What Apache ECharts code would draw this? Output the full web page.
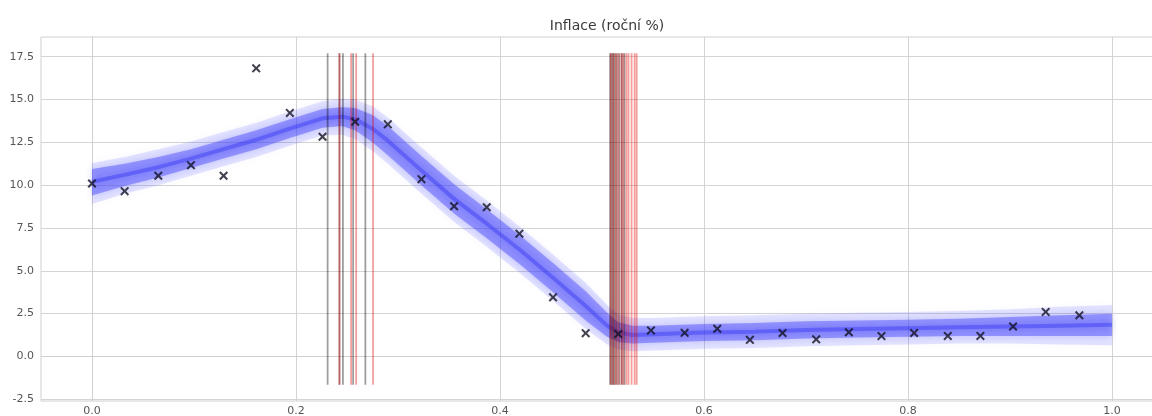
<!DOCTYPE html>
<html>
<head>
<meta charset="utf-8">
<script src="https://cdn.jsdelivr.net/npm/echarts@6/dist/echarts.min.js"></script>
<style>html,body{margin:0;padding:0;background:#fff}#c{width:1152px;height:416px}</style>
</head>
<body>
<div id="c"></div>
<script>
// observed data (crosses)
const obsX = [0, 0.032, 0.065, 0.097, 0.129, 0.161, 0.194, 0.226, 0.258, 0.290, 0.323, 0.355, 0.387, 0.419, 0.452, 0.484, 0.516, 0.548, 0.581, 0.613, 0.645, 0.677, 0.710, 0.742, 0.774, 0.806, 0.839, 0.871, 0.903, 0.935, 0.968];
const obsY = [10.1, 9.65, 10.55, 11.17, 10.55, 16.82, 14.22, 12.83, 13.7, 13.55, 10.35, 8.77, 8.71, 7.17, 3.45, 1.36, 1.31, 1.52, 1.38, 1.62, 0.97, 1.37, 1.0, 1.41, 1.19, 1.37, 1.2, 1.2, 1.75, 2.6, 2.4];

// posterior band
const bandX   = [0, 0.032, 0.065, 0.097, 0.129, 0.161, 0.194, 0.226, 0.245, 0.258, 0.275, 0.29, 0.323, 0.355, 0.387, 0.42, 0.452, 0.484, 0.505, 0.516, 0.53, 0.55, 0.6, 0.65, 0.7, 0.75, 0.8, 0.85, 0.9, 0.95, 1.0];
const bandMid = [10.2, 10.6, 11.05, 11.55, 12.1, 12.65, 13.3, 13.9, 14.0, 13.85, 13.3, 12.6, 10.85, 9.2, 7.75, 6.2, 4.6, 2.95, 1.8, 1.4, 1.25, 1.3, 1.4, 1.45, 1.55, 1.6, 1.65, 1.7, 1.75, 1.8, 1.85];
const innerHi = [10.95, 11.25, 11.65, 12.1, 12.65, 13.2, 13.85, 14.45, 14.55, 14.5, 14.1, 13.45, 11.7, 10.05, 8.6, 7.05, 5.45, 3.8, 2.55, 2.0, 1.8, 1.8, 1.9, 1.95, 2.05, 2.1, 2.15, 2.2, 2.3, 2.4, 2.5];
const innerLo = [9.4, 9.95, 10.45, 11.0, 11.55, 12.1, 12.75, 13.35, 13.45, 13.2, 12.5, 11.75, 10.0, 8.35, 6.9, 5.35, 3.75, 2.1, 1.15, 0.85, 0.75, 0.8, 0.9, 0.95, 1.05, 1.1, 1.15, 1.2, 1.2, 1.2, 1.2];
const outerHi = [11.3, 11.65, 12.1, 12.55, 13.1, 13.65, 14.3, 14.9, 15.05, 15.0, 14.6, 13.95, 12.2, 10.55, 9.1, 7.55, 5.95, 4.3, 3.0, 2.45, 2.25, 2.25, 2.35, 2.4, 2.5, 2.55, 2.6, 2.65, 2.75, 2.9, 3.0];
const outerLo = [8.9, 9.5, 10.0, 10.55, 11.1, 11.65, 12.3, 12.9, 12.95, 12.7, 12.0, 11.25, 9.5, 7.85, 6.4, 4.85, 3.25, 1.6, 0.7, 0.4, 0.3, 0.35, 0.45, 0.5, 0.6, 0.65, 0.7, 0.75, 0.75, 0.7, 0.65];

// change-point lines
const blackLines = [0.231, 0.2426, 0.246, 0.256, 0.268, 0.508, 0.5095, 0.511, 0.5125, 0.5145, 0.517, 0.5195, 0.522];
const redLines = [0.2426, 0.254, 0.259, 0.2755, 0.5085, 0.511, 0.5135, 0.516, 0.519, 0.521, 0.524, 0.526, 0.529, 0.532, 0.534];
const vlineLow = -1.65, vlineHigh = 17.7;

// ticks
const xTicks = [0, 0.2, 0.4, 0.6, 0.8, 1.0];
const yTicks = [-2.5, 0, 2.5, 5, 7.5, 10, 12.5, 15, 17.5];
const titleText = 'Inflace (roční %)';

const chart = echarts.init(document.getElementById('c'));
const FONT = 'DejaVu Sans';

function bandSeries(hi, lo, fill, blur) {
  return {
    type: 'custom', coordinateSystem: 'cartesian2d', silent: true, clip: true,
    data: [0], z: 1,
    renderItem: function (params, api) {
      const pts = [];
      for (let i = 0; i < bandX.length; i++) pts.push(api.coord([bandX[i], hi[i]]));
      for (let i = bandX.length - 1; i >= 0; i--) pts.push(api.coord([bandX[i], lo[i]]));
      return { type: 'polygon', shape: { points: pts }, style: { fill: fill, shadowBlur: blur, shadowColor: fill } };
    }
  };
}
function vlineSeries(xs, color) {
  return {
    type: 'custom', coordinateSystem: 'cartesian2d', silent: true, z: 3,
    data: xs.map(v => [v]),
    encode: { x: 0 },
    renderItem: function (params, api) {
      const x = api.value(0);
      const p1 = api.coord([x, vlineLow]);
      const p2 = api.coord([x, vlineHigh]);
      return { type: 'line', shape: { x1: p1[0], y1: p1[1], x2: p2[0], y2: p2[1] }, style: { stroke: color, lineWidth: 1.8 } };
    }
  };
}

const xPath = 'path://M0,1.6 L1.6,0 L5,3.4 L8.4,0 L10,1.6 L6.6,5 L10,8.4 L8.4,10 L5,6.6 L1.6,10 L0,8.4 L3.4,5 Z';

chart.setOption({
  animation: false,
  backgroundColor: '#fff',
  title: { text: titleText, left: 602, textAlign: 'center', top: 14, textStyle: { fontFamily: FONT, fontSize: 14, fontWeight: 'normal', color: '#3a3a3a' } },
  grid: { left: 41, top: 37, width: 1122, height: 364, outerBoundsMode: 'none', containLabel: false, show: true, borderColor: '#d0d0d0', borderWidth: 1, backgroundColor: 'transparent' },
  xAxis: {
    type: 'value', min: -0.05, max: 1.05,
    axisLine: { show: true, lineStyle: { color: '#d0d0d0' } },
    axisTick: { show: false, customValues: xTicks },
    axisLabel: { customValues: xTicks, formatter: v => v.toFixed(1), color: '#555', fontFamily: FONT, fontSize: 11, margin: 5 },
    splitLine: { show: true, lineStyle: { color: '#d4d4d4', width: 1 } }
  },
  yAxis: {
    type: 'value', min: -2.6, max: 18.65,
    axisLine: { show: true, lineStyle: { color: '#d0d0d0' } },
    axisTick: { show: false, customValues: yTicks },
    axisLabel: { customValues: yTicks, formatter: v => v.toFixed(1), color: '#555', fontFamily: FONT, fontSize: 11, margin: 7 },
    splitLine: { show: true, lineStyle: { color: '#d4d4d4', width: 1 } }
  },
  series: [
    bandSeries(outerHi, outerLo, 'rgba(80,80,255,0.16)', 10),
    bandSeries(innerHi, innerLo, 'rgba(60,60,250,0.42)', 6),
    {
      type: 'line', silent: true, z: 2, symbol: 'none',
      data: bandX.map((x, i) => [x, bandMid[i]]),
      lineStyle: { color: 'rgba(40,40,240,0.35)', width: 4, shadowBlur: 4, shadowColor: 'rgba(40,40,240,0.4)' }
    },
    vlineSeries(blackLines, 'rgba(0,0,0,0.38)'),
    vlineSeries(redLines, 'rgba(225,0,0,0.38)'),
    {
      type: 'scatter', z: 5, symbol: xPath, symbolSize: 9,
      itemStyle: { color: '#111122' },
      data: obsX.map((x, i) => [x, obsY[i]])
    }
  ]
});
</script>
</body>
</html>
